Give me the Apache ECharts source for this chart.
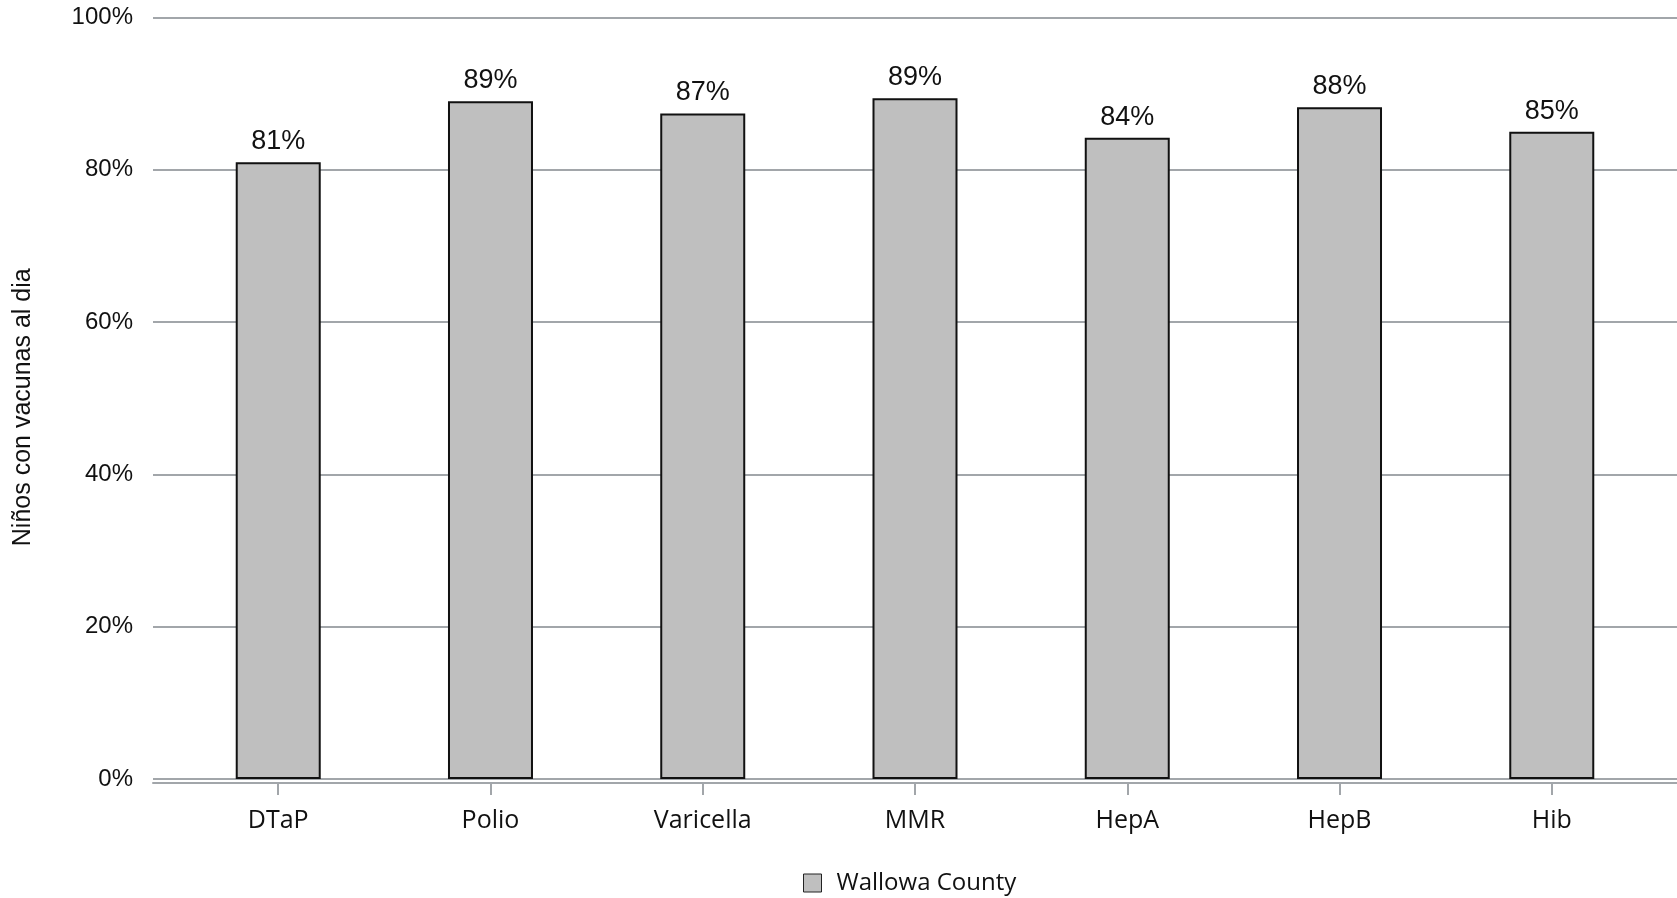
<!DOCTYPE html>
<html>
<head>
<meta charset="utf-8">
<script src="https://cdn.jsdelivr.net/npm/echarts@6/dist/echarts.min.js"></script>
<style>html,body{margin:0;padding:0;background:#fff;}#c{width:1677px;height:898px;}</style>
</head>
<body>
<div id="c"></div>
<script>
const categories = ['DTaP', 'Polio', 'Varicella', 'MMR', 'HepA', 'HepB', 'Hib'];
const values = [81.0, 89.0, 87.4, 89.4, 84.2, 88.2, 85.0];
const yTicks = [0, 20, 40, 60, 80, 100];
const seriesName = 'Wallowa County';
const yTitle = 'Niños con vacunas al dia';

const FONT = '"Liberation Sans", Arial, sans-serif';
const FONT2 = '"Open Sans", "Noto Sans", sans-serif';
const GRID = '#A2A6AA';
const chart = echarts.init(document.getElementById('c'), null, {renderer: 'canvas'});
const idx = categories.map((_, i) => i);
chart.setOption({
  animation: false,
  backgroundColor: '#ffffff',
  textStyle: {fontFamily: FONT},
  grid: {left: 153, right: 0, top: 17.5, bottom: 119, containLabel: false},
  legend: {
    data: [seriesName], left: 798, top: 866, icon: 'rect', itemWidth: 18, itemHeight: 18, itemGap: 10,
    textStyle: {fontFamily: FONT2, fontSize: 24, color: '#111', padding: [0, 0, 0, 10]},
    itemStyle: {borderColor: '#222', borderWidth: 1}
  },
  xAxis: {
    type: 'value', min: -0.59, max: 6.59, offset: 4,
    axisLine: {onZero: false, show: true, lineStyle: {color: GRID, width: 2}},
    axisTick: {show: true, customValues: idx, length: 12, lineStyle: {color: GRID, width: 2}},
    axisLabel: {customValues: idx, formatter: v => categories[Math.round(v)], fontFamily: FONT2, fontSize: 25, color: '#111', margin: 25},
    splitLine: {show: false}
  },
  yAxis: {
    type: 'value', min: 0, max: 100, interval: 20,
    name: yTitle, nameLocation: 'middle', nameGap: 117, nameRotate: 90,
    nameTextStyle: {fontFamily: FONT, fontSize: 25, color: '#111', padding: [0, 18, 0, 0]},
    axisLine: {show: false}, axisTick: {show: false},
    axisLabel: {formatter: '{value}%', fontFamily: FONT, fontSize: 24, color: '#111', margin: 20,
      customValues: yTicks},
    splitLine: {show: true, lineStyle: {color: GRID, width: 2}}
  },
  series: [{
    name: seriesName, type: 'bar', barWidth: 85,
    data: values.map((v, i) => [i, v]),
    itemStyle: {color: '#BFBFBF', borderColor: '#111', borderWidth: 2},
    label: {show: true, position: 'top', distance: 7, formatter: p => Math.round(p.value[1]) + '%',
      fontFamily: FONT, fontSize: 27, color: '#111'}
  }]
});
</script>
</body>
</html>
